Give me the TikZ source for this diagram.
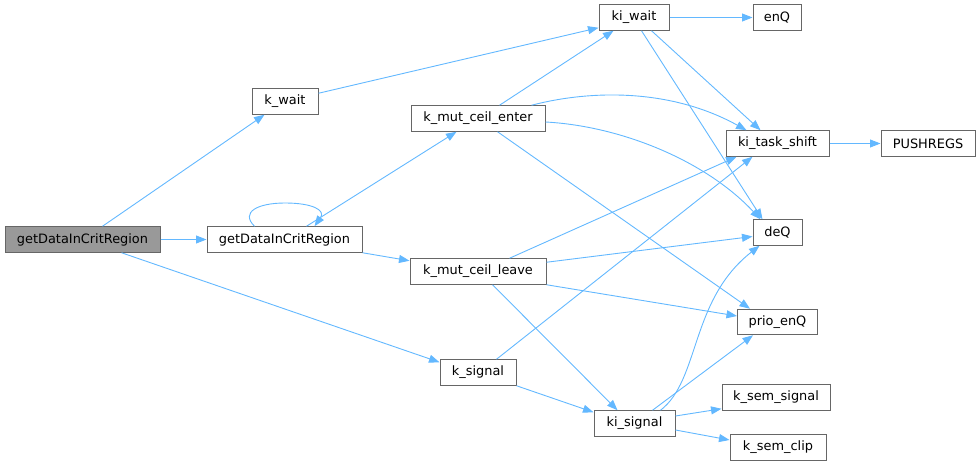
\documentclass[tikz,border=0pt]{standalone}
\usepackage{fontspec}
\setmainfont{DejaVu Sans}
\usetikzlibrary{arrows.meta,calc}
\definecolor{edgeblue}{HTML}{63B8FF}
\definecolor{boxborder}{HTML}{666666}
\definecolor{rootfill}{HTML}{999999}
\begin{document}
\begin{tikzpicture}[x=1pt,y=-1pt,
  fn/.style={draw=boxborder,line width=1pt,fill=white,minimum height=25.5pt,inner sep=0pt,
    font=\fontsize{12.9}{15}\selectfont,text=black},
  rootfn/.style={fn,fill=rootfill},
  call/.style={draw=edgeblue,line width=0.9pt,-{Triangle[length=10.5pt,width=8pt]}}]
\useasboundingbox (0,0) rectangle (980,465);
% nodes
\node[rootfn,minimum width=155pt] (root) at (82.5,239.5) {getDataInCritRegion};
\node[fn,minimum width=66pt] (kwait) at (285,101.5) {k\_wait};
\node[fn,minimum width=155pt] (gd) at (284.5,239.5) {getDataInCritRegion};
\node[fn,minimum width=134pt] (kmce) at (478,118.5) {k\_mut\_ceil\_enter};
\node[fn,minimum width=136pt] (kmcl) at (478,271.5) {k\_mut\_ceil\_leave};
\node[fn,minimum width=76pt] (ksig) at (478,372.5) {k\_signal};
\node[fn,minimum width=70pt] (kiwait) at (634,17.5) {ki\_wait};
\node[fn,minimum width=48pt] (enq) at (777,17.5) {enQ};
\node[fn,minimum width=103pt] (kts) at (777.5,143.5) {ki\_task\_shift};
\node[fn,minimum width=94pt] (push) at (928,143.5) {PUSHREGS};
\node[fn,minimum width=49pt] (deq) at (777.5,232.5) {deQ};
\node[fn,minimum width=80pt] (prio) at (777.5,322) {prio\_enQ};
\node[fn,minimum width=108pt] (kss) at (776,397.5) {k\_sem\_signal};
\node[fn,minimum width=96pt] (ksc) at (778,447.5) {k\_sem\_clip};
\node[fn,minimum width=81pt] (kisig) at (634.5,423.5) {ki\_signal};
% edges
\draw[call] ($(root.north west)+(98,0)$) -- ($(kwait.south west)+(13,0)$);
\draw[call] (root.east) -- (gd.west);
\draw[call] ($(root.south west)+(117,0)$) -- ($(ksig.north west)+(0,3)$);
\draw[call] ($(gd.north west)+(48,0)$) .. controls (240,212) and (258,203) .. (285,203)
  .. controls (312,203) and (326,210) .. ($(gd.north west)+(108,0)$);
\draw[call] ($(gd.north west)+(100,0)$) -- ($(kmce.south west)+(46,0)$);
\draw[call] (gd.south east) -- ($(kmcl.north west)+(0,2.5)$);
\draw[call] ($(kwait.north east)+(0,5)$) -- ($(kiwait.south west)+(0,-3)$);
\draw[call] ($(kmce.north west)+(89,0)$) -- ($(kiwait.south west)+(15,0)$);
\draw[call] ($(kmce.north west)+(121,0)$) .. controls (590,90) and (670,88) .. ($(kts.north west)+(21,0)$);
\draw[call] ($(kmce.east)+(0,3.5)$) .. controls (620,126) and (705,160) .. ($(deq.north west)+(8,0)$);
\draw[call] ($(kmce.south west)+(87,0)$) -- ($(prio.north west)+(13,0)$);
\draw[call] (kiwait.east) -- (enq.west);
\draw[call] ($(kiwait.south west)+(53,0)$) -- ($(kts.north west)+(35,0)$);
\draw[call] ($(kiwait.south west)+(43,0)$) -- ($(deq.north west)+(10,0)$);
\draw[call] (kts.east) -- (push.west);
\draw[call] ($(kmcl.north west)+(100,0)$) -- ($(kts.south west)+(11,0)$);
\draw[call] ($(kmcl.north east)+(0,4)$) -- ($(deq.west)+(0,4)$);
\draw[call] (kmcl.south east) -- ($(prio.west)+(0,-6)$);
\draw[call] ($(kmcl.south west)+(83,0)$) -- ($(kisig.north west)+(24,0)$);
\draw[call] ($(ksig.north west)+(57,0)$) -- ($(kts.south west)+(27,0)$);
\draw[call] (ksig.south east) -- ($(kisig.north west)+(0,2)$);
\draw[call] ($(kisig.north west)+(67,0)$) .. controls (700,380) and (690,300) .. ($(deq.south west)+(7,0)$);
\draw[call] ($(kisig.north west)+(59,0)$) -- ($(prio.south west)+(16,0)$);
\draw[call] ($(kisig.east)+(0,-7.5)$) -- ($(kss.south west)+(0,-2)$);
\draw[call] ($(kisig.east)+(0,6.5)$) -- ($(ksc.west)+(0,-7.5)$);
\end{tikzpicture}
\end{document}
